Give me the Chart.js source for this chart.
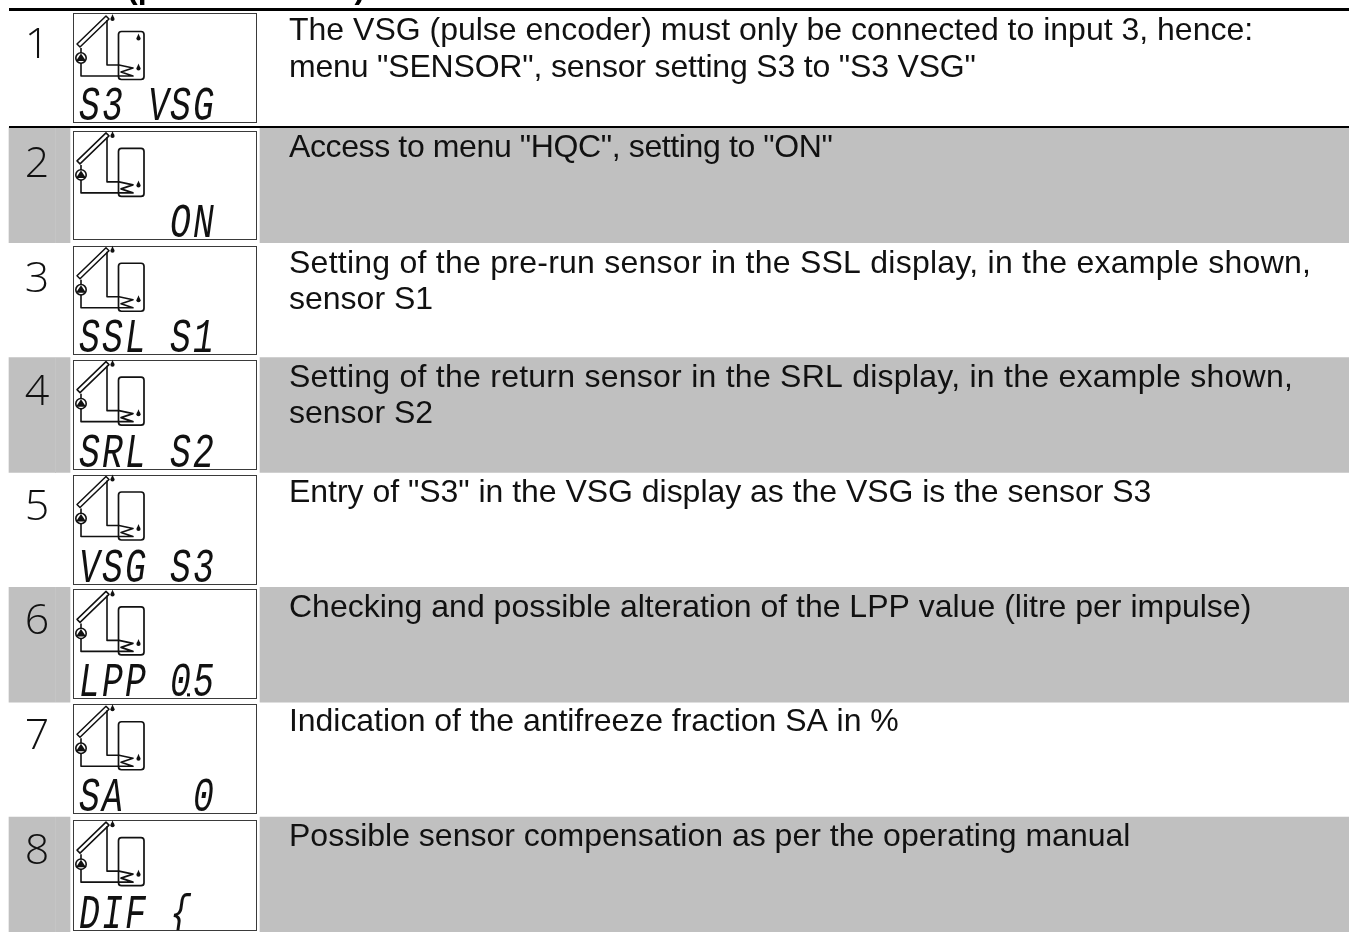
<!DOCTYPE html>
<html><head><meta charset="utf-8">
<style>html,body{margin:0;padding:0;background:#fff;overflow:hidden}canvas{display:block}</style>
<script src="https://cdn.jsdelivr.net/npm/chart.js@4/dist/chart.umd.min.js"></script>
</head><body><canvas id="c" width="1349" height="932"></canvas>
<script>
const stepNumbers = ["1","2","3","4","5","6","7","8"];
const shadedRows = [0,1,0,1,0,1,0,1];
const displayTexts = ["S3 VSG","    ON","SSL S1","SRL S2","VSG S3","LPP 0.5","SA   0","DIF {"];
const tankTopSensor = [1,0,0,0,0,0,0,0];
const headingText = "(pulse encoder)";
const descriptions = [
 ['The VSG (pulse encoder) must only be connected to input 3, hence:','menu "SENSOR", sensor setting S3 to "S3 VSG"'],
 ['Access to menu "HQC", setting to "ON"'],
 ['Setting of the pre-run sensor in the SSL display, in the example shown,','sensor S1'],
 ['Setting of the return sensor in the SRL display, in the example shown,','sensor S2'],
 ['Entry of "S3" in the VSG display as the VSG is the sensor S3'],
 ['Checking and possible alteration of the LPP value (litre per impulse)'],
 ['Indication of the antifreeze fraction SA in %'],
 ['Possible sensor compensation as per the operating manual']
];
// layout constants (pixels)
const L={left:9,gutL:70,gutR:260,right:1349,panelL:73,panelR:257,top:13,seam:55,
  panelOff:[0,3,3,2,2,2,2,3],panelH:[109,108,108,109,109,109,109,110],
  numBase:[45,49,49,47,47,47,47,47],textBase:[27,29,30,29,29,30,29,29],iconOff:[3,2,2,2,2,2,2,2],
  spacing:[[0,-0.18],[-0.38],[0.25,0],[0.25,0],[-0.03],[0],[-0.05],[0]],pitch:[37,36,36,36,36,36,36,36]};

function icon(ctx,x,y,top){
  const X=v=>x+v,Y=v=>y+v;
  ctx.save();ctx.strokeStyle='#111';ctx.fillStyle='#111';ctx.lineJoin='round';
  ctx.lineWidth=1.5;ctx.beginPath();ctx.moveTo(X(4),Y(28));ctx.lineTo(X(33),Y(0));ctx.lineTo(X(36),Y(3));ctx.lineTo(X(7),Y(31));ctx.closePath();ctx.stroke();
  ctx.lineWidth=1.6;ctx.beginPath();
  ctx.moveTo(X(8),Y(32));ctx.lineTo(X(8),Y(37));
  ctx.moveTo(X(8),Y(47));ctx.lineTo(X(8),Y(60));ctx.lineTo(X(46),Y(60));
  ctx.moveTo(X(34),Y(4));ctx.lineTo(X(34),Y(49));ctx.lineTo(X(46),Y(49));
  ctx.lineTo(X(60),Y(52));ctx.lineTo(X(48),Y(56));ctx.lineTo(X(60),Y(60));ctx.lineTo(X(46),Y(60));
  ctx.stroke();
  ctx.lineWidth=1.7;ctx.beginPath();ctx.roundRect(X(45.5),Y(15.5),25.5,48,3);ctx.stroke();
  ctx.lineWidth=1.6;ctx.beginPath();ctx.arc(X(8),Y(42),5.2,0,Math.PI*2);ctx.stroke();
  ctx.beginPath();ctx.moveTo(X(8),Y(37.5));ctx.lineTo(X(13),Y(45));ctx.lineTo(X(3),Y(45));ctx.closePath();ctx.fill();
  const drop=(a,b)=>{ctx.beginPath();ctx.arc(X(a),Y(b),2.1,0,Math.PI*2);ctx.fill();ctx.beginPath();ctx.moveTo(X(a-1.6),Y(b-1));ctx.lineTo(X(a),Y(b-5));ctx.lineTo(X(a+1.6),Y(b-1));ctx.fill();};
  drop(39.5,3); drop(65.5,52.5); if(top) drop(65.5,22.5);
  ctx.restore();
}
function lcd(ctx,x,pt,ph,txt){
  const cells=[6,29,52,75,97,120],base=pt+ph-2;
  const chars=[];let dotAfter=-1;
  for(const ch of txt){if(ch==='.'){dotAfter=chars.length-1;}else chars.push(ch);}
  ctx.save();ctx.beginPath();ctx.rect(x,pt,184,ph);ctx.clip();
  ctx.fillStyle='#111';ctx.font='italic 24px "Liberation Mono"';ctx.textBaseline='alphabetic';ctx.textAlign='left';
  chars.forEach((ch,i)=>{ if(ch===' '||i>5) return;
    ctx.save();ctx.translate(x+cells[i],base);ctx.transform(1.45,0,0,2.0,0,0);ctx.fillText(ch,0,0);ctx.restore();});
  if(dotAfter>=0){ctx.fillRect(x+cells[dotAfter]+17,base-3,3,3);}
  ctx.restore();
}
const tablePlugin={id:'table',afterDatasetsDraw(ch){
  const c=ch.ctx,y=ch.scales.y,h=y.getPixelForValue(1)-y.getPixelForValue(0);
  stepNumbers.forEach((n,i)=>{
    const t=y.getPixelForValue(i)-h/2;
    if(shadedRows[i]){c.fillStyle='#c5c5c5';c.fillRect(L.seam,Math.round(t),1,Math.round(h));}
    const pt=t+L.panelOff[i],ph=L.panelH[i];
    c.fillStyle='#fff';c.strokeStyle='#3a3a3a';c.lineWidth=1;
    c.fillRect(L.panelL,pt,L.panelR-L.panelL,ph);
    c.strokeRect(L.panelL+.5,Math.round(pt)+.5,L.panelR-L.panelL-1,ph);
    icon(c,L.panelL,pt+L.iconOff[i],tankTopSensor[i]);
    lcd(c,L.panelL,pt,ph,displayTexts[i]);
    c.fillStyle='#111';c.font='300 43px "Open Sans"';c.textAlign='center';c.textBaseline='alphabetic';
    c.fillText(n,37,t+L.numBase[i]);
    c.fillStyle='#111';c.font='32px "Liberation Sans"';c.textAlign='left';
    descriptions[i].forEach((s,k)=>{c.letterSpacing=(L.spacing[i][k]||0)+'px';c.fillText(s,289,t+L.textBase[i]+L.pitch[i]*k);});
    c.letterSpacing='0px';
  });
  c.fillStyle='#000';c.fillRect(L.left,8,L.right-L.left,3);c.fillRect(L.left,126,L.right-L.left,2);
  c.font='bold 32px "Liberation Sans"';c.textAlign='left';c.fillText(headingText,127,-2);
}};
new Chart(document.getElementById('c'),{
 type:'bar',
 data:{labels:stepNumbers,datasets:[
  {label:'shade-left',data:shadedRows.map(s=>s?[L.left,L.gutL]:null),backgroundColor:'#c0c0c0',borderWidth:0,barPercentage:1,categoryPercentage:1},
  {label:'shade-right',data:shadedRows.map(s=>s?[L.gutR,L.right]:null),backgroundColor:'#c0c0c0',borderWidth:0,barPercentage:1,categoryPercentage:1}
 ]},
 options:{indexAxis:'y',responsive:false,animation:false,grouped:false,
  layout:{padding:{top:L.top,left:0,right:0,bottom:0}},
  plugins:{legend:{display:false},tooltip:{enabled:false},title:{display:false}},
  scales:{x:{type:'linear',display:false,min:0,max:1349},y:{type:'category',display:false}}},
 plugins:[tablePlugin]
});
</script></body></html>
